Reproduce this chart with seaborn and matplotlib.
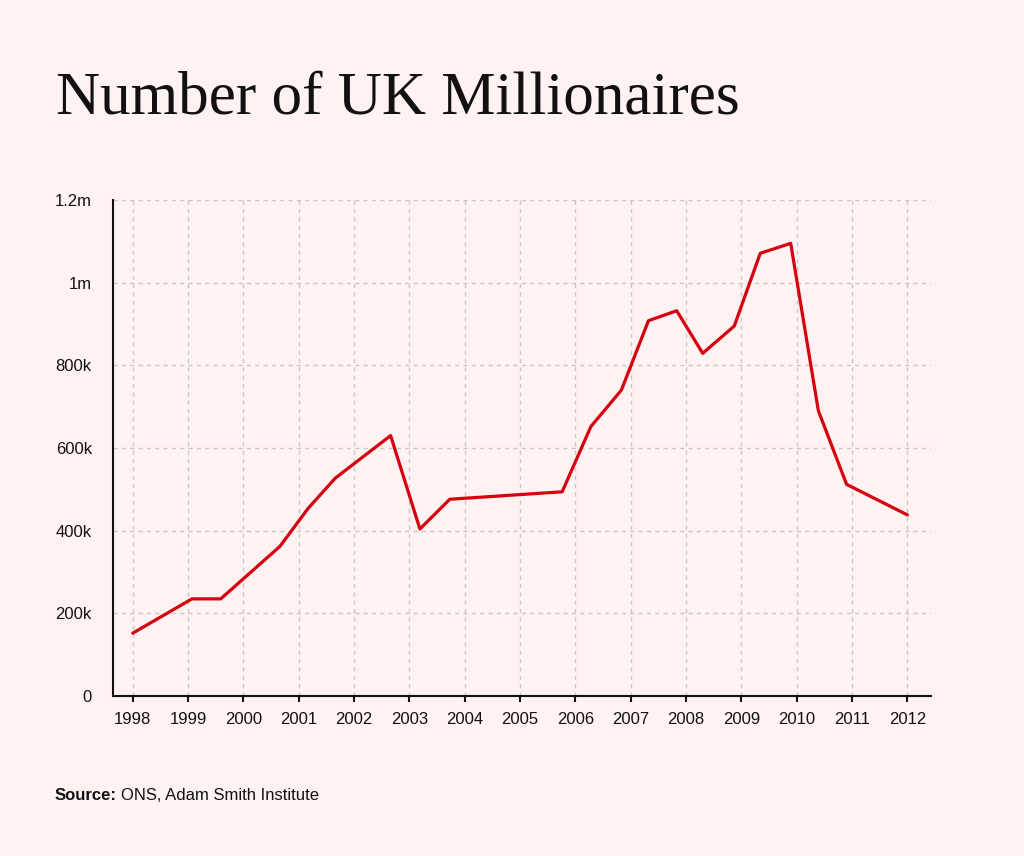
import matplotlib
matplotlib.use("Agg")
import matplotlib.pyplot as plt
import seaborn as sns
import pandas as pd

# ---- data ----
years = [1998.0, 1999.07, 1999.59, 2000.66, 2001.17, 2001.66, 2002.66, 2003.19,
         2003.73, 2005.76, 2006.28, 2006.83, 2007.32, 2007.83, 2008.30, 2008.87,
         2009.34, 2009.89, 2010.39, 2010.90, 2012.0]
millionaires = [152000, 235000, 235000, 362000, 454000, 527000, 630000, 404000,
                476000, 494000, 652000, 740000, 908000, 932000, 829000, 895000,
                1071000, 1095000, 690000, 512000, 438000]
x_ticks = list(range(1998, 2013))
y_ticks = [0, 200000, 400000, 600000, 800000, 1000000, 1200000]
y_tick_labels = ["0", "200k", "400k", "600k", "800k", "1m", "1.2m"]
title = "Number of UK Millionaires"
source_label = "Source:"
source_text = "ONS, Adam Smith Institute"

df = pd.DataFrame({"year": years, "value": millionaires})

BG = "#fef2f2"
RED = "#d6000f"
INK = "#111111"
FS = 12

sns.set_theme(style="white")
plt.rcParams["font.family"] = ["Liberation Sans", "DejaVu Sans"]

fig = plt.figure(figsize=(10.24, 8.56), dpi=100, facecolor=BG)
ax = fig.add_axes([0.1107, 0.1869, 0.9089 - 0.1107, 0.7664 - 0.1869])
ax.set_facecolor(BG)

sns.lineplot(data=df, x="year", y="value", ax=ax, color=RED, linewidth=2.3,
             zorder=3)

ax.set_xlim(1997.65, 2012.42)
ax.set_ylim(0, 1200000)
ax.set_xticks(x_ticks)
ax.set_xticklabels([str(y) for y in x_ticks], fontsize=FS, color=INK)
ax.set_yticks(y_ticks)
ax.set_yticklabels(y_tick_labels, fontsize=FS, color=INK)
ax.set_xlabel("")
ax.set_ylabel("")

ax.grid(True, which="major", axis="both", color="#c8c8c8", linestyle=(0, (3, 3)),
        linewidth=1.0, zorder=0)
ax.set_axisbelow(True)

for s in ["top", "right"]:
    ax.spines[s].set_visible(False)
for s in ["left", "bottom"]:
    ax.spines[s].set_visible(True)
    ax.spines[s].set_color(INK)
    ax.spines[s].set_linewidth(1.5)

ax.tick_params(axis="x", which="major", bottom=True, length=4.5, width=1.5,
               color=INK, pad=7, direction="out")
ax.tick_params(axis="y", which="major", left=False, length=0, pad=15.5)

fig.text(56 / 1024, 1 - 114 / 856, title, fontsize=44,
         family=["Liberation Serif", "DejaVu Serif"], color=INK,
         ha="left", va="baseline")

t1 = fig.text(55 / 1024, 1 - 800 / 856, source_label, fontsize=FS,
              fontweight="bold", color=INK, ha="left", va="baseline")
fig.canvas.draw()
bb = t1.get_window_extent(renderer=fig.canvas.get_renderer())
fig.text((bb.x1 + 4) / 1024, 1 - 800 / 856, source_text, fontsize=FS,
         color=INK, ha="left", va="baseline")

fig.savefig("out.png", dpi=100, facecolor=BG)
